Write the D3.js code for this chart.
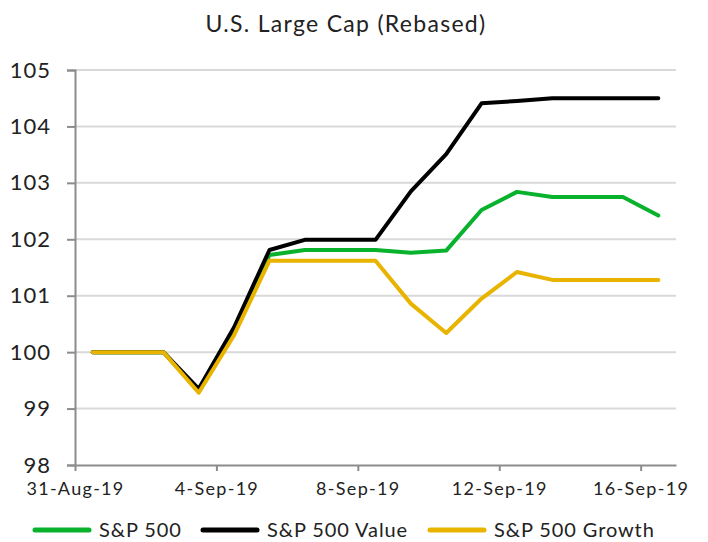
<!DOCTYPE html>
<html>
<head>
<meta charset="utf-8">
<script src="https://cdn.jsdelivr.net/npm/d3@7"></script>
<style>
  body { margin: 0; background: #fff; }
  text { font-family: Lato, "Open Sans", sans-serif; fill: #222; }
</style>
</head>
<body>
<div id="chart"></div>
<script>
// daily observations, rebased to 100
const dates = ["2019-08-31", "2019-09-01", "2019-09-02", "2019-09-03", "2019-09-04", "2019-09-05",
  "2019-09-06", "2019-09-07", "2019-09-08", "2019-09-09", "2019-09-10", "2019-09-11",
  "2019-09-12", "2019-09-13", "2019-09-14", "2019-09-15", "2019-09-16"];
const sp500 = [100, 100, 100, 99.31, 100.38, 101.72, 101.81, 101.81, 101.81, 101.76, 101.80, 102.52,
  102.84, 102.75, 102.75, 102.75, 102.42];
const spValue = [100, 100, 100, 99.35, 100.44, 101.81, 101.99, 101.99, 101.99, 102.85, 103.51, 104.41,
  104.45, 104.50, 104.50, 104.50, 104.50];
const spGrowth = [100, 100, 100, 99.28, 100.30, 101.62, 101.62, 101.62, 101.62, 100.86, 100.34, 100.95,
  101.42, 101.28, 101.28, 101.28, 101.28];
const seriesNames = ["S&P 500", "S&P 500 Value", "S&P 500 Growth"];
const yTicks = [98, 99, 100, 101, 102, 103, 104, 105];
const xTickDates = ["2019-08-31", "2019-09-04", "2019-09-08", "2019-09-12", "2019-09-16"];

const width = 708, height = 542;
const margin = {top: 70, right: 32, bottom: 77, left: 75};
const colors = ["#08b22c", "#000000", "#e8b400"];

const parse = d3.timeParse("%Y-%m-%d");
const days = dates.map(parse);

const x = d3.scaleTime()
  .domain([parse("2019-08-31"), parse("2019-09-17")])
  .range([margin.left, width - margin.right]);
const y = d3.scaleLinear().domain([98, 105]).range([height - margin.bottom, margin.top]);

const svg = d3.select("#chart").append("svg")
  .attr("width", width)
  .attr("height", height);

// title
svg.append("text")
  .attr("x", 346)
  .attr("y", 32)
  .attr("text-anchor", "middle")
  .attr("font-size", 23)
  .attr("letter-spacing", 1.3)
  .text("U.S. Large Cap (Rebased)");

// gridlines
svg.append("g")
  .selectAll("line")
  .data(yTicks.filter(d => d > 98))
  .join("line")
    .attr("x1", margin.left)
    .attr("x2", width - margin.right)
    .attr("y1", d => y(d))
    .attr("y2", d => y(d))
    .attr("stroke", "#d9d9d9")
    .attr("stroke-width", 2);

// y axis
svg.append("g")
  .attr("transform", `translate(${margin.left},0)`)
  .call(d3.axisLeft(y).tickValues(yTicks).tickSize(8).tickPadding(16).tickFormat(d3.format("d")))
  .call(g => g.select(".domain").attr("stroke", "#8c8c8c").attr("stroke-width", 2))
  .call(g => g.selectAll(".tick line").attr("stroke", "#8c8c8c").attr("stroke-width", 2))
  .call(g => g.selectAll(".tick text").attr("font-size", 22).attr("letter-spacing", 1)
    .attr("font-family", null).attr("fill", "#222"));

// x axis
svg.append("g")
  .attr("transform", `translate(0,${height - margin.bottom})`)
  .call(d3.axisBottom(x).tickValues(xTickDates.map(parse)).tickSize(6).tickPadding(11)
    .tickFormat(d3.timeFormat("%-d-%b-%y")).tickSizeOuter(0))
  .call(g => g.select(".domain").attr("stroke", "#8c8c8c").attr("stroke-width", 2))
  .call(g => g.selectAll(".tick line").attr("stroke", "#8c8c8c").attr("stroke-width", 2))
  .call(g => g.selectAll(".tick text").attr("font-size", 18).attr("letter-spacing", 1.3)
    .attr("font-family", null).attr("fill", "#222"));

// lines, points sit in the middle of each day
const line = d3.line()
  .x((d, i) => x(d3.timeHour.offset(days[i], 12)))
  .y(d => y(d));

[sp500, spValue, spGrowth].forEach((vals, i) => {
  svg.append("path")
    .attr("fill", "none")
    .attr("stroke", colors[i])
    .attr("stroke-width", 4)
    .attr("stroke-linejoin", "round")
    .attr("stroke-linecap", "round")
    .attr("d", line(vals));
});

// legend
const legendX = [35, 203, 430];
const legend = svg.append("g")
  .selectAll("g")
  .data(seriesNames)
  .join("g")
    .attr("transform", (d, i) => `translate(${legendX[i]},530)`);
legend.append("line")
  .attr("x1", 0).attr("x2", 54)
  .attr("stroke", (d, i) => colors[i])
  .attr("stroke-width", 5)
  .attr("stroke-linecap", "round");
legend.append("text")
  .attr("x", 64)
  .attr("dy", "0.33em")
  .attr("font-size", 20)
  .attr("letter-spacing", 0.9)
  .text(d => d);
</script>
</body>
</html>
